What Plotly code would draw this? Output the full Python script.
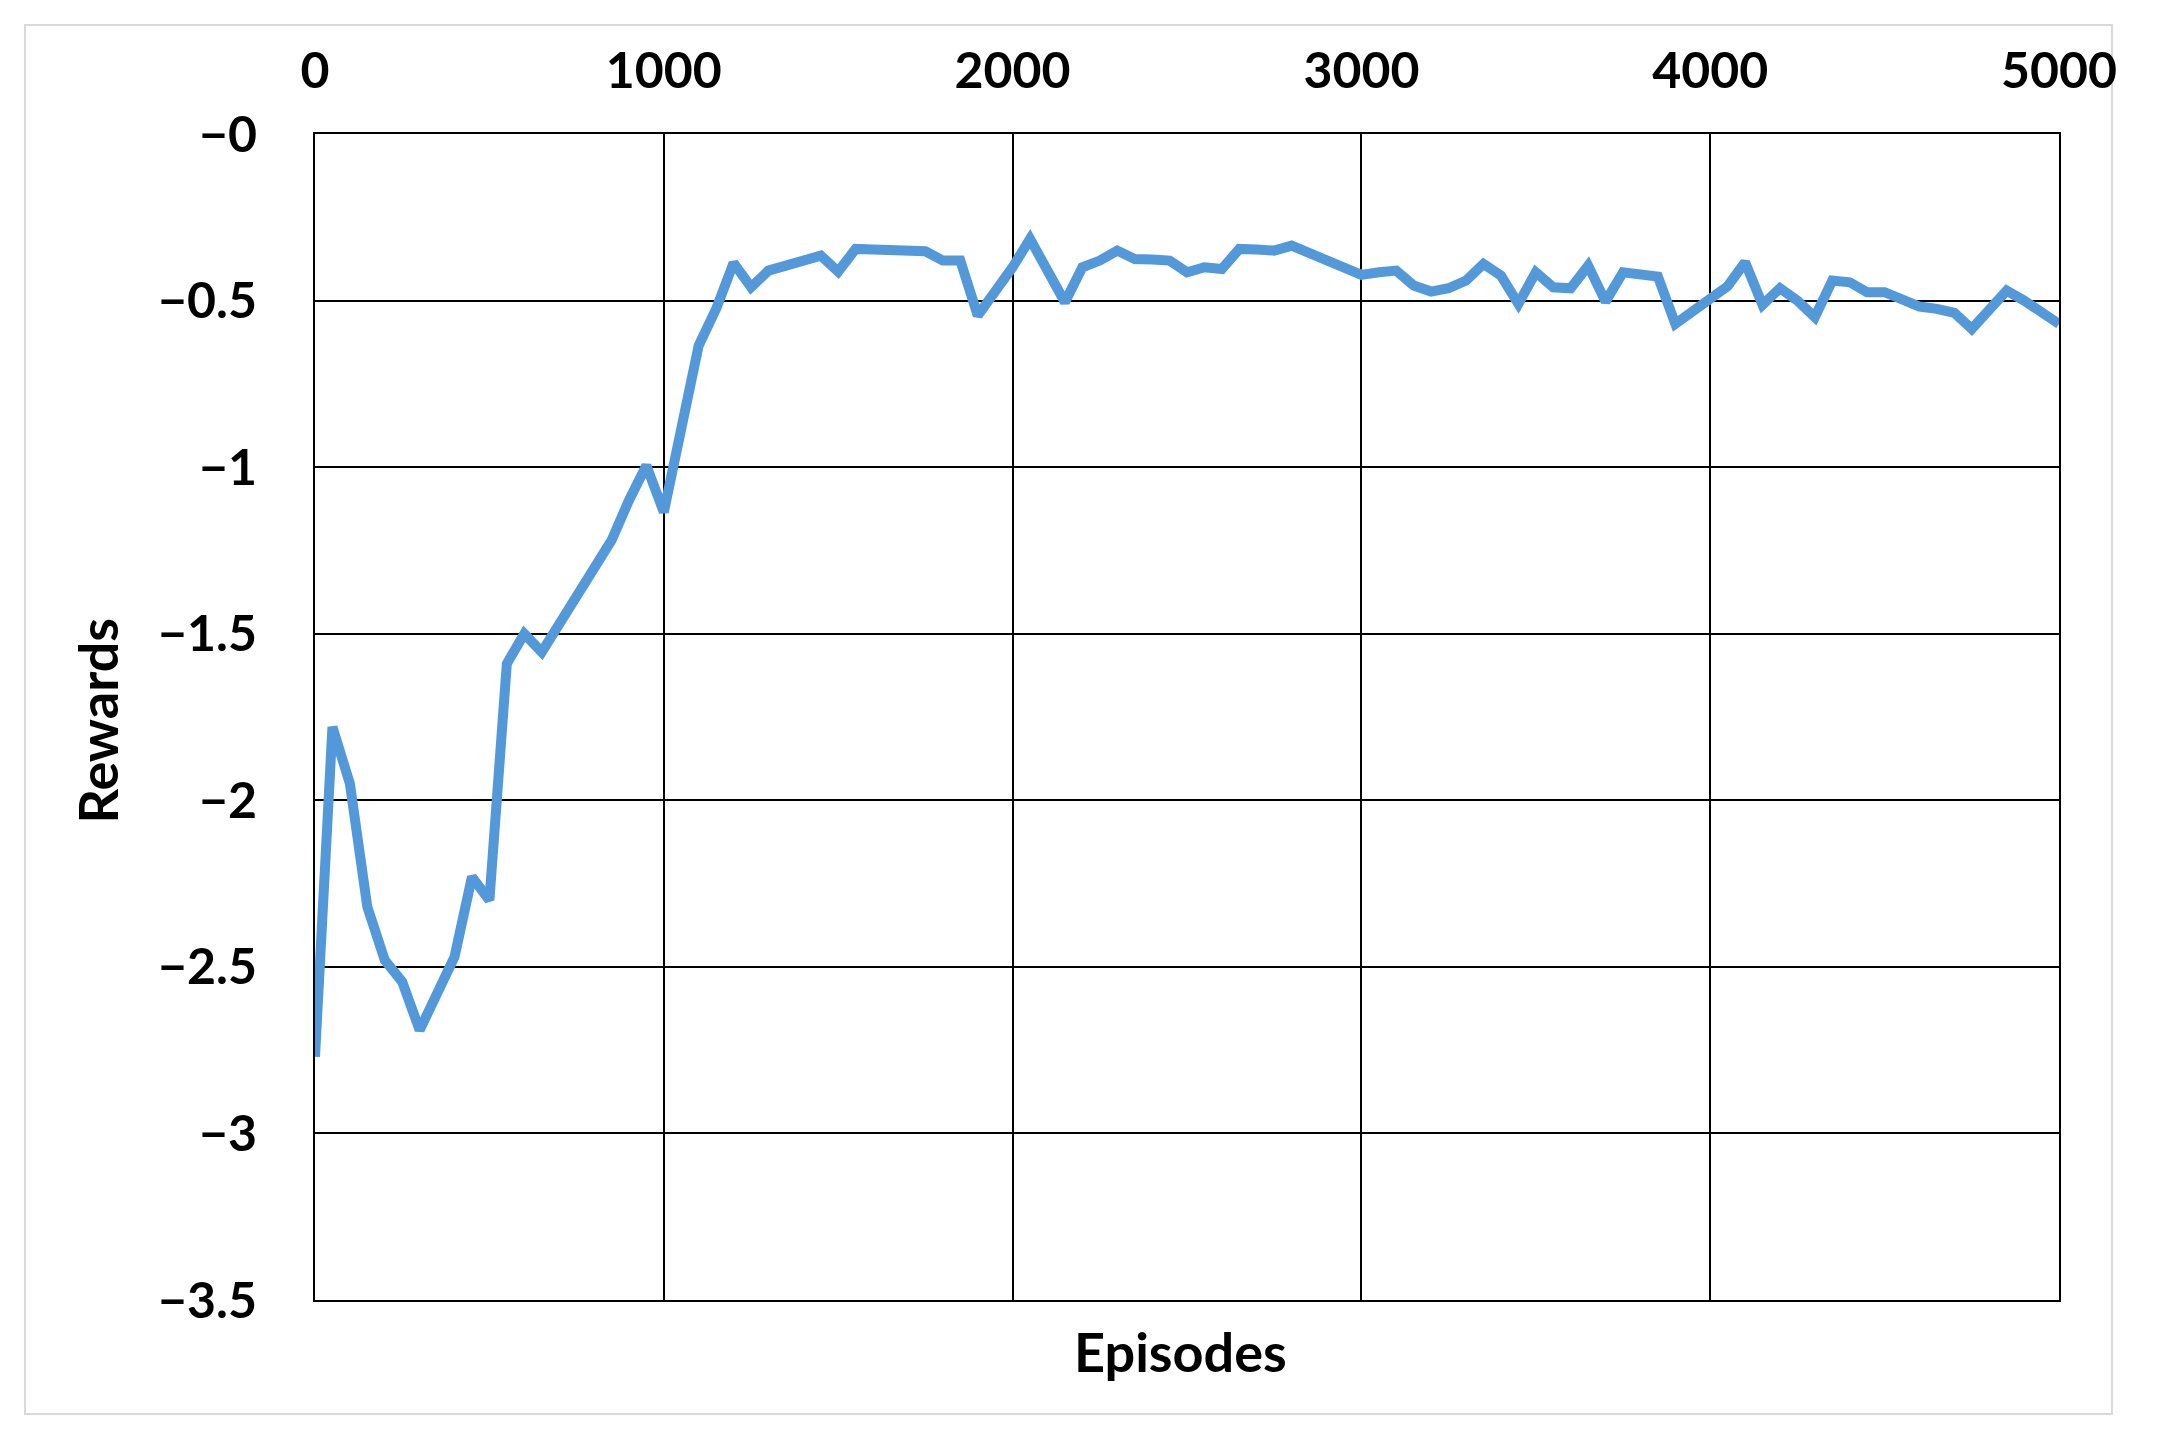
"""Rewards per episode during training (line chart, x axis on top)."""
import plotly.graph_objects as go

# episodes, sampled every 50
episodes = list(range(0, 5001, 50))

# average reward
rewards = [
    -2.77, -1.78, -1.95, -2.32, -2.48, -2.545, -2.69, -2.58, -2.47, -2.23,
    -2.30, -1.59, -1.50, -1.555, -1.47, -1.39, -1.305, -1.22, -1.10, -0.995,
    -1.135, -0.89, -0.635, -0.525, -0.387, -0.46, -0.41, -0.395, -0.383, -0.365,
    -0.413, -0.345, -0.347, -0.348, -0.349, -0.352, -0.38, -0.38, -0.545, -0.475,
    -0.40, -0.315, -0.41, -0.505, -0.40, -0.38, -0.35, -0.375, -0.377, -0.38,
    -0.415, -0.40, -0.405, -0.345, -0.347, -0.35, -0.335, -0.357, -0.38, -0.40,
    -0.423, -0.415, -0.41, -0.455, -0.473, -0.463, -0.44, -0.39, -0.425, -0.51,
    -0.415, -0.46, -0.463, -0.395, -0.503, -0.415, -0.42, -0.428, -0.57, -0.532,
    -0.495, -0.457, -0.385, -0.513, -0.463, -0.50, -0.55, -0.44, -0.445, -0.475,
    -0.475, -0.50, -0.518, -0.525, -0.537, -0.585, -0.525, -0.47, -0.50, -0.533,
    -0.57,
]

x_ticks = [0, 1000, 2000, 3000, 4000, 5000]
y_ticks = [0, -0.5, -1, -1.5, -2, -2.5, -3, -3.5]
y_tick_text = ["\u22120", "\u22120.5", "\u22121", "\u22121.5", "\u22122", "\u22122.5", "\u22123", "\u22123.5"]

tick_font = dict(family="Lato", size=50, color="black", weight="bold")
title_font = dict(family="Lato", size=54, color="black")

fig = go.Figure()
fig.add_trace(go.Scatter(x=episodes, y=rewards, mode="lines",
                         line=dict(color="#5399DA", width=10), showlegend=False))

# the page body has an 8px margin, so everything is nudged up/left by 8
fig.update_layout(
    width=2167, height=1455,
    margin=dict(l=307, r=116, t=126, b=163),
    paper_bgcolor="white", plot_bgcolor="white",
)

fig.update_xaxes(
    side="top", range=[0, 5000], tickvals=x_ticks, tickfont=tick_font,
    showgrid=True, gridcolor="black", gridwidth=2,
    showline=True, linecolor="black", linewidth=2, mirror=True,
    zeroline=False, ticks="", ticklabelstandoff=24,
)
fig.update_yaxes(
    range=[-3.5, 0], tickvals=y_ticks, ticktext=y_tick_text, tickfont=tick_font,
    showgrid=True, gridcolor="black", gridwidth=2,
    showline=True, linecolor="black", linewidth=2, mirror=True,
    zeroline=False, ticks="", ticklabelstandoff=46,
)

# axis titles
fig.add_annotation(text="<b>Episodes</b>", xref="paper", yref="paper",
                   x=0.496, y=-0.044, xanchor="center", yanchor="middle",
                   showarrow=False, font=title_font)
fig.add_annotation(text="<b>Rewards</b>", xref="paper", yref="paper",
                   x=-0.125, y=0.497, xanchor="center", yanchor="middle", textangle=-90,
                   showarrow=False, font=title_font)

# light grey frame around the whole chart
fig.add_shape(type="rect", xref="paper", yref="paper",
              x0=-0.1663, x1=1.0304, y0=-0.0978, y1=1.0935,
              line=dict(color="#D9D9D9", width=2), fillcolor="rgba(0,0,0,0)", layer="below")

fig.write_html("out.html")
